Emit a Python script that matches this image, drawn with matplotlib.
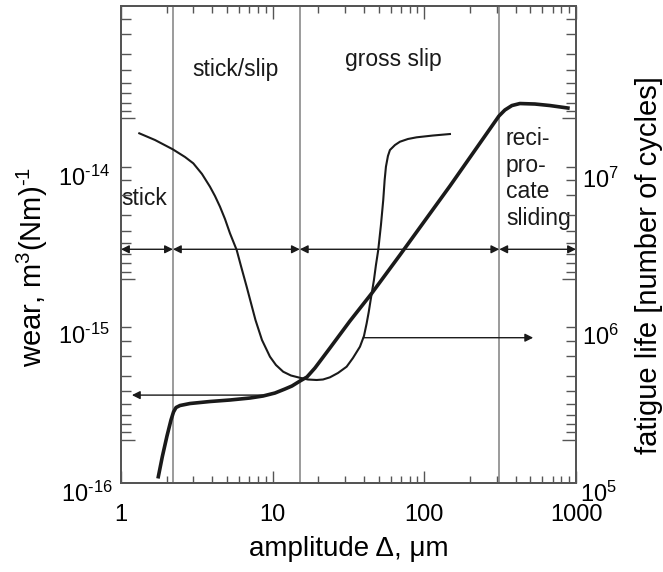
import numpy as np
import matplotlib
matplotlib.use("Agg")
import matplotlib.pyplot as plt
from matplotlib.ticker import FixedLocator, FuncFormatter, NullFormatter, NullLocator
from matplotlib.transforms import blended_transform_factory

plt.rcParams['font.family'] = ['Liberation Sans', 'DejaVu Sans']
plt.rcParams['mathtext.fontset'] = 'custom'
plt.rcParams['mathtext.rm'] = 'Liberation Sans'
plt.rcParams['mathtext.it'] = 'Liberation Sans:italic'

# wear rate vs slip amplitude (left axis)
wear_amp = [1.762, 1.872, 2.010, 2.136, 2.219, 2.305, 2.449, 2.849, 3.860,
            5.230, 7.086, 8.632, 10.36, 12.05, 13.40, 15.14, 16.83, 19.00,
            23.86, 32.33, 45.14, 69.05, 147.5, 310.3, 339.8, 378.0, 426.8,
            535.9, 673.0, 884.3]
wear_rate = [1.251e-16, 1.673e-16, 2.262e-16, 2.854e-16, 3.206e-16, 3.422e-16,
             3.524e-16, 3.628e-16, 3.735e-16, 3.818e-16, 3.930e-16, 4.046e-16,
             4.227e-16, 4.480e-16, 4.680e-16, 5.032e-16, 5.335e-16, 6.081e-16,
             8.134e-16, 1.205e-15, 1.810e-15, 3.146e-15, 8.585e-15, 2.376e-14,
             2.594e-14, 2.768e-14, 2.850e-14, 2.830e-14, 2.768e-14, 2.669e-14]

# fatigue life vs slip amplitude (right axis)
life_amp = [1.320, 1.676, 2.192, 2.642, 2.997, 3.420, 3.860, 4.165, 4.494,
            4.849, 5.230, 5.790, 6.180, 6.739, 7.194, 7.702, 8.501, 9.598,
            10.51, 11.73, 13.20, 15.14, 17.09, 19.50, 21.46, 23.86, 26.95,
            30.74, 33.83, 37.63, 39.99, 41.66, 42.99, 44.26, 46.53, 47.97,
            49.67, 51.75, 53.59, 54.74, 55.83, 57.55, 59.33, 64.01, 69.05,
            77.96, 88.97, 113.9, 147.5]
life_cycles = [1.912e7, 1.733e7, 1.513e7, 1.351e7, 1.231e7, 1.053e7, 8.738e6,
               7.625e6, 6.517e6, 5.441e6, 4.411e6, 3.453e6, 2.731e6, 2.015e6,
               1.587e6, 1.237e6, 9.226e5, 7.221e5, 6.393e5, 5.794e5, 5.480e5,
               5.299e5, 5.168e5, 5.131e5, 5.168e5, 5.336e5, 5.686e5, 6.236e5,
               7.084e5, 8.362e5, 9.781e5, 1.178e6, 1.390e6, 1.659e6, 2.224e6,
               2.771e6, 3.453e6, 4.983e6, 7.189e6, 9.638e6, 1.172e7, 1.371e7,
               1.497e7, 1.610e7, 1.690e7, 1.759e7, 1.803e7, 1.851e7, 1.892e7]

# regime boundaries (amplitude, um)
boundaries = [2.2, 15.1, 312]
regime_row = 3.42e-15

x_ticks = [1, 10, 100, 1000]
x_tick_labels = ['1', '10', '100', '1000']
wear_labels = [1e-14, 1e-15]
life_labels = [1e6, 1e7]

# frame tick marks, shared by both side spines (in wear units)
frame_long = [2.298e-14, 2.218e-15, 2.143e-16]
frame_div = [2, 2.42, 3, 4, 5, 6, 7, 8, 9]

HY = '\u2010'  # short hyphen for negative exponents


def pow10(v, pos=None):
    e = int(round(np.log10(v)))
    s = (HY + str(-e)) if e < 0 else str(e)
    return '$\\mathregular{10^{%s}}$' % s


fig = plt.figure(figsize=(6.63, 5.72), dpi=100)
rect = [121 / 663, 89 / 572, 455 / 663, 477 / 572]
ax = fig.add_axes(rect)
ax2 = ax.twinx()
ax3 = ax.twinx()

grey = '#555555'
ink = '#1a1a1a'
wear_lim = (10 ** -15.9425, 10 ** -12.929)
for a in (ax, ax2, ax3):
    a.set_xscale('log')
    a.set_yscale('log')
ax.set_xlim(1, 1000)
ax.set_ylim(*wear_lim)
ax3.set_ylim(*wear_lim)
ax2.set_ylim(10 ** 5.0541, 10 ** 8.0924)

for a in (ax, ax2, ax3):
    for s in a.spines.values():
        s.set_color(grey)
        s.set_linewidth(1.3)

# regime boundaries and their extents
for b in boundaries:
    ax.axvline(b, color='#8a8a8a', lw=1.2, zorder=1)

edges = [1] + boundaries + [1000]
for x0, x1 in zip(edges[:-1], edges[1:]):
    ax.annotate('', xy=(x0, regime_row), xytext=(x1, regime_row),
                arrowprops=dict(arrowstyle='<|-|>', color=ink, lw=1.0,
                                shrinkA=0, shrinkB=0, mutation_scale=12))

ax.plot(wear_amp, wear_rate, color=ink, lw=2.6, zorder=3)
ax2.plot(life_amp, life_cycles, color=ink, lw=1.5, zorder=3)

# pointers to the respective axes
ax.annotate('', xy=(1.18, 4.1e-16), xytext=(8.63, 4.1e-16),
            arrowprops=dict(arrowstyle='-|>', color=ink, lw=1.0,
                            shrinkA=0, shrinkB=0, mutation_scale=12))
ax2.annotate('', xy=(522, 9.54e5), xytext=(39.6, 9.54e5),
             arrowprops=dict(arrowstyle='-|>', color=ink, lw=1.0,
                             shrinkA=0, shrinkB=0, mutation_scale=12))

txt_kw = dict(fontsize=16.5, color=ink)
ax.text(5.71, 4.65e-14, 'stick/slip', ha='center', va='center', **txt_kw)
ax.text(62.1, 5.37e-14, 'gross slip', ha='center', va='center', **txt_kw)
ax.text(1.01, 7.21e-15, 'stick', ha='left', va='center', **txt_kw)
ax.text(345, 9.57e-15, 'reci-\npro-\ncate\nsliding', ha='left', va='center',
        linespacing=1.2, **txt_kw)

# x ticks (bottom and top)
ax.xaxis.set_major_locator(FixedLocator(x_ticks))
ax.set_xticklabels(x_tick_labels)
ax.tick_params(axis='x', which='major', direction='in', length=9, width=1.0,
               color=grey, labelsize=17, pad=15, top=True)
ax.tick_params(axis='x', which='minor', direction='in', length=5, width=1.0,
               color=grey, top=True)

# decade labels (no marks of their own)
ax.yaxis.set_major_locator(FixedLocator(wear_labels))
ax.yaxis.set_major_formatter(FuncFormatter(pow10))
ax.yaxis.set_minor_locator(NullLocator())
ax.tick_params(axis='y', which='major', length=0, labelsize=17, pad=8)

ax2.yaxis.set_major_locator(FixedLocator(life_labels))
ax2.yaxis.set_major_formatter(FuncFormatter(pow10))
ax2.yaxis.set_minor_locator(NullLocator())
ax2.tick_params(axis='y', which='major', length=0, labelsize=17, pad=4)

# tick marks along both side spines
frame_short = [m / d ** 1.015 for m in frame_long + [frame_long[0] * 10.36]
               for d in frame_div]
ax3.yaxis.set_major_locator(FixedLocator(frame_long))
ax3.yaxis.set_minor_locator(FixedLocator(frame_short))
ax3.yaxis.set_major_formatter(NullFormatter())
ax3.yaxis.set_minor_formatter(NullFormatter())
ax3.tick_params(axis='y', which='major', direction='in', length=10, width=1.0,
                color=grey, left=True, right=True)
ax3.tick_params(axis='y', which='minor', direction='in', length=7, width=1.0,
                color=grey, left=True, right=True)
ax3.xaxis.set_visible(False)

# lowest decade labels sit just below the frame
tl = blended_transform_factory(ax.transAxes, ax.transData)
ax.text(-0.0176, 1e-16, pow10(1e-16), transform=tl, ha='right',
        va='center_baseline', fontsize=17, clip_on=False)
tr = blended_transform_factory(ax2.transAxes, ax2.transData)
ax2.text(1.0088, 1e5, pow10(1e5), transform=tr, ha='left',
         va='center_baseline', fontsize=17, clip_on=False)

ax.set_xlabel('amplitude Δ, μm', fontsize=20)
ax.xaxis.set_label_coords(0.5, -0.112)
ax.set_ylabel('wear, m$\\mathregular{^3}$(Nm)$\\mathregular{^{%s1}}$' % HY,
              fontsize=21)
ax.yaxis.set_label_coords(-0.156, 0.453)
ax2.set_ylabel('fatigue life [number of cycles]', fontsize=21, rotation=90)
ax2.yaxis.set_label_coords(1.13, 0.457)

fig.savefig('out.png', dpi=100)
